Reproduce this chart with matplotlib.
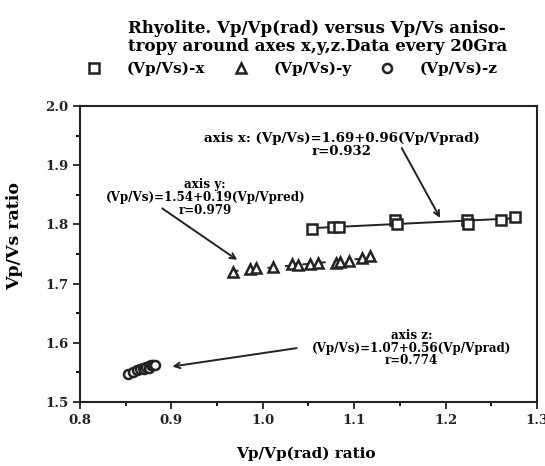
import numpy as np
import matplotlib
matplotlib.use("Agg")
import matplotlib.pyplot as plt
from matplotlib.lines import Line2D
from matplotlib.ticker import MultipleLocator

# Vp/Vp(rad) vs Vp/Vs, one series per anisotropy axis
x_axis_vp = [1.054, 1.077, 1.083, 1.145, 1.147, 1.223, 1.224, 1.261, 1.276]
x_axis_vs = [1.792, 1.795, 1.795, 1.808, 1.800, 1.808, 1.801, 1.808, 1.812]

y_axis_vp = [0.967, 0.986, 0.993, 1.011, 1.032, 1.039, 1.052, 1.060, 1.080, 1.084, 1.094, 1.109, 1.117]
y_axis_vs = [1.720, 1.724, 1.726, 1.728, 1.733, 1.732, 1.733, 1.734, 1.735, 1.736, 1.738, 1.744, 1.747]

z_axis_vp = [0.853, 0.858, 0.862, 0.866, 0.869, 0.870, 0.872, 0.875, 0.876, 0.878, 0.880, 0.882]
z_axis_vs = [1.547, 1.551, 1.554, 1.556, 1.558, 1.555, 1.559, 1.560, 1.557, 1.562, 1.563, 1.562]

xticks = [0.8, 0.9, 1.0, 1.1, 1.2, 1.3]
yticks = [1.5, 1.6, 1.7, 1.8, 1.9, 2.0]

plt.rcParams['font.family'] = ['DejaVu Serif']
plt.rcParams['font.weight'] = 'bold'

fig = plt.figure(figsize=(5.45, 4.66), dpi=100)
ax = fig.add_axes([0.1468, 0.1373, 0.8385, 0.6352])

ink = '#222222'
mk = dict(linestyle='none', markerfacecolor='white', markeredgecolor=ink,
          markeredgewidth=1.8, markersize=6.5)

# fitted lines for x and y series
cx = np.polyfit(x_axis_vp, x_axis_vs, 1)
xx = np.array([min(x_axis_vp), max(x_axis_vp)])
ax.plot(xx, np.polyval(cx, xx), color=ink, lw=1.4, zorder=1)

cy = np.polyfit(y_axis_vp, y_axis_vs, 1)
yy = np.array([min(y_axis_vp), max(y_axis_vp)])
ax.plot(yy, np.polyval(cy, yy), color=ink, lw=1.4, ls=(0, (3, 6)), zorder=1)

ax.plot(x_axis_vp, x_axis_vs, marker='s', **mk)
ax.plot(y_axis_vp, y_axis_vs, marker='^', **mk)
ax.plot(z_axis_vp, z_axis_vs, marker='o', **mk)

ax.set_xlim(0.8, 1.3)
ax.set_ylim(1.5, 2.0)
ax.set_xticks(xticks)
ax.set_yticks(yticks)
ax.set_xticklabels(['%.1f' % v for v in xticks])
ax.set_yticklabels(['%.1f' % v for v in yticks])
ax.xaxis.set_minor_locator(MultipleLocator(0.05))
ax.yaxis.set_minor_locator(MultipleLocator(0.05))
ax.tick_params(which='major', direction='out', length=5, width=1.3, labelsize=9.5, colors=ink)
ax.tick_params(which='minor', direction='out', length=3, width=1.3)
for s in ax.spines.values():
    s.set_linewidth(1.5)
    s.set_color(ink)

ax.set_xlabel('Vp/Vp(rad) ratio', fontsize=11, fontweight='bold')
ax.xaxis.set_label_coords(0.495, -0.15)
ax.set_ylabel('Vp/Vs ratio', fontsize=12.5, fontweight='bold')
ax.yaxis.set_label_coords(-0.125, 0.56)

arrow = dict(arrowstyle='->', color=ink, lw=1.4, shrinkA=0, shrinkB=0)
ax.annotate('', xy=(1.194, 1.811), xytext=(1.152, 1.929), arrowprops=arrow)
ax.annotate('', xy=(0.972, 1.740), xytext=(0.890, 1.827), arrowprops=arrow)
ax.annotate('', xy=(0.901, 1.560), xytext=(1.037, 1.591), arrowprops=arrow)

ax.text(1.086, 1.934, 'axis x: (Vp/Vs)=1.69+0.96(Vp/Vprad)\nr=0.932',
        ha='center', va='center', fontsize=9.6, fontweight='bold', linespacing=1.05)
ax.text(0.937, 1.845, 'axis y:\n(Vp/Vs)=1.54+0.19(Vp/Vpred)\nr=0.979',
        ha='center', va='center', fontsize=8.6, fontweight='bold', linespacing=0.98)
ax.text(1.163, 1.591, 'axis z:\n(Vp/Vs)=1.07+0.56(Vp/Vprad)\nr=0.774',
        ha='center', va='center', fontsize=8.6, fontweight='bold', linespacing=0.98)

fig.text(0.235, 0.919, 'Rhyolite. Vp/Vp(rad) versus Vp/Vs aniso-\ntropy around axes x,y,z.Data every 20Gra',
         ha='left', va='center', fontsize=12, fontweight='bold', linespacing=1.05)

handles = [Line2D([], [], marker=m, **mk) for m in ['s', '^', 'o']]
fig.legend(handles, ['(Vp/Vs)-x', '(Vp/Vs)-y', '(Vp/Vs)-z'], ncol=3,
           loc='center', bbox_to_anchor=(0.536, 0.852), frameon=False,
           fontsize=11, handlelength=1.0, handletextpad=1.65, columnspacing=1.8)

fig.savefig('out.png', dpi=100)
